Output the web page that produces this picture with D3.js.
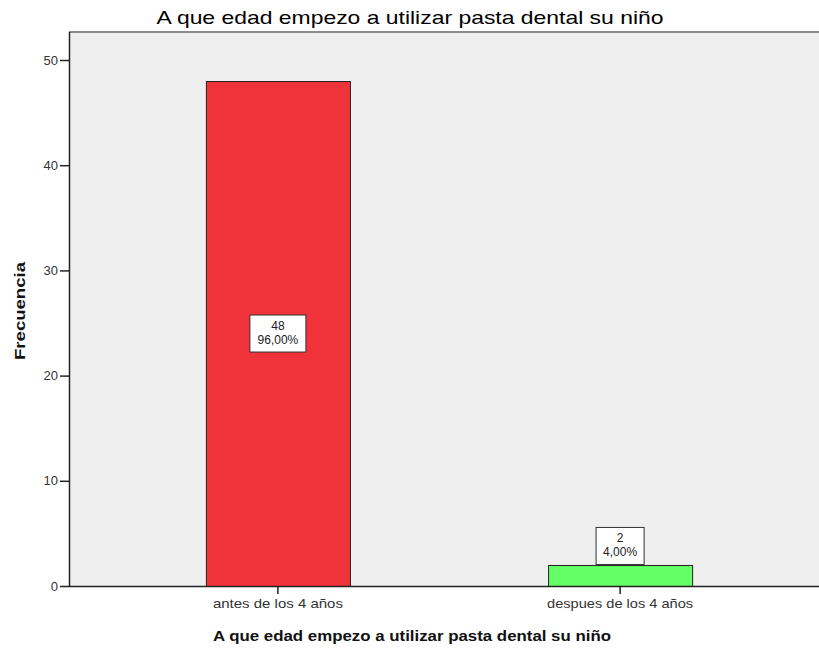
<!DOCTYPE html>
<html>
<head>
<meta charset="utf-8">
<script src="https://cdn.jsdelivr.net/npm/d3@7"></script>
<style>
  body { margin: 0; background: #fff; }
  text { font-family: Arial, "Liberation Sans", sans-serif; }
</style>
</head>
<body>
<div id="draw_here"></div>
<script type="text/javascript">
    // Data
    categories = ["antes de los 4 años", "despues de los 4 años"]
    counts = [48, 2]
    percents = ["96,00%", "4,00%"]
    colors = ["#f0333a", "#64ff64"]
    yTicks = [0, 10, 20, 30, 40, 50]
    titleText = "A que edad empezo a utilizar pasta dental su niño"

    canvas = ({width: 819, height: 649})
    plot = ({left: 69, right: 829, top: 32, bottom: 586})
    fontFam = "Arial, 'Liberation Sans', sans-serif"

    x = d3.scaleBand()
        .domain(categories)
        .range([plot.left, plot.right])
        .paddingInner(0.579)
        .paddingOuter(0.4)

    y = d3.scaleLinear()
        .domain([0, 50])
        .range([plot.bottom, 60])

    var svg = d3.select("div#draw_here").append("svg")
        .attr("width", canvas.width)
        .attr("height", canvas.height)

    // plot background
    svg.append("rect")
        .attr("x", plot.left)
        .attr("y", plot.top)
        .attr("width", plot.right - plot.left)
        .attr("height", plot.bottom - plot.top)
        .attr("fill", "#efefef")

    svg.append("line")
        .attr("x1", plot.left).attr("x2", plot.right)
        .attr("y1", plot.top).attr("y2", plot.top)
        .attr("stroke", "#8a8a8a")
        .attr("stroke-width", 2)

    // bars
    svg.selectAll("rect.bar")
        .data(categories)
        .join("rect")
        .attr("class", "bar")
        .attr("x", d => x(d) + 0.5)
        .attr("y", (d, i) => y(counts[i]) + 0.5)
        .attr("width", x.bandwidth())
        .attr("height", (d, i) => y(0) - y(counts[i]))
        .attr("fill", (d, i) => colors[i])
        .attr("stroke", "#222")
        .attr("stroke-width", 1)

    // axes
    yAxis = g => g
        .attr("transform", `translate(${plot.left},0)`)
        .call(d3.axisLeft(y).tickValues(yTicks).tickSize(9).tickPadding(2).tickSizeOuter(0))
        .call(g => g.select(".domain").attr("d", `M0.5,${plot.top}V${plot.bottom}`).attr("stroke", "#222").attr("stroke-width", 1.5))

    xAxis = g => g
        .attr("transform", `translate(0,${plot.bottom})`)
        .call(d3.axisBottom(x).tickSize(8).tickPadding(5).tickSizeOuter(0))
        .call(g => g.select(".domain").attr("d", `M${plot.left},0.5H${plot.right}`).attr("stroke", "#222").attr("stroke-width", 1.5))

    svg.append("g").call(yAxis)
        .call(g => g.selectAll("text").attr("font-size", 13).attr("fill", "#333").attr("font-family", fontFam))
        .call(g => g.selectAll(".tick line").attr("stroke", "#222").attr("stroke-width", 1.5))
    svg.append("g").call(xAxis)
        .call(g => g.selectAll("text").attr("font-size", 13).attr("fill", "#333").attr("font-family", fontFam)
            .attr("textLength", (d, i) => i === 0 ? 130 : 146).attr("lengthAdjust", "spacingAndGlyphs"))
        .call(g => g.selectAll(".tick line").attr("stroke", "#222").attr("stroke-width", 1.5))

    // value labels
    labels = svg.selectAll("g.lbl")
        .data(categories)
        .join("g")
        .attr("class", "lbl")
        .attr("transform", (d, i) => {
            const cx = x(d) + x.bandwidth() / 2
            const h = y(0) - y(counts[i])
            const cy = h > 40 ? y(counts[i] / 2) : y(counts[i]) - 19
            return `translate(${cx},${cy})`
        })

    labels.append("rect")
        .attr("x", (d, i) => i === 0 ? -28 : -24)
        .attr("y", -18.5)
        .attr("width", (d, i) => i === 0 ? 56 : 48)
        .attr("height", 37)
        .attr("fill", "#fff")
        .attr("stroke", "#333")
        .attr("stroke-width", 1)

    labels.append("text")
        .attr("text-anchor", "middle")
        .attr("font-size", 12)
        .attr("fill", "#222")
        .attr("y", -4)
        .text((d, i) => counts[i])

    labels.append("text")
        .attr("text-anchor", "middle")
        .attr("font-size", 12)
        .attr("fill", "#222")
        .attr("y", 10)
        .text((d, i) => percents[i])

    // titles
    svg.append("text")
        .attr("x", 410)
        .attr("y", 24)
        .attr("text-anchor", "middle")
        .attr("font-size", 19)
        .attr("fill", "#000")
        .attr("textLength", 507)
        .attr("lengthAdjust", "spacingAndGlyphs")
        .text(titleText)

    svg.append("text")
        .attr("x", 412)
        .attr("y", 641)
        .attr("text-anchor", "middle")
        .attr("font-size", 15)
        .attr("font-weight", "bold")
        .attr("fill", "#111")
        .attr("textLength", 398)
        .attr("lengthAdjust", "spacingAndGlyphs")
        .text(titleText)

    svg.append("text")
        .attr("transform", "translate(25,311) rotate(-90)")
        .attr("text-anchor", "middle")
        .attr("font-size", 15)
        .attr("font-weight", "bold")
        .attr("fill", "#111")
        .attr("textLength", 98)
        .attr("lengthAdjust", "spacingAndGlyphs")
        .text("Frecuencia")
</script>
</body>
</html>
